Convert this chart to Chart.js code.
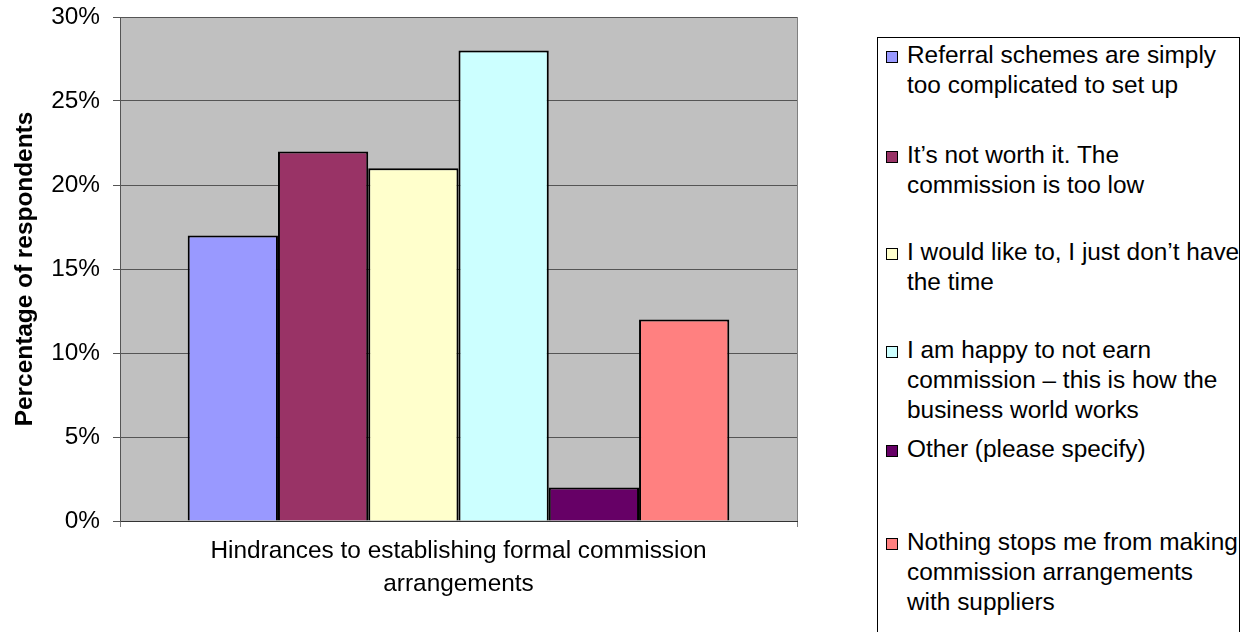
<!DOCTYPE html>
<html>
<head>
<meta charset="utf-8">
<script src="https://cdn.jsdelivr.net/npm/chart.js@4/dist/chart.umd.min.js"></script>
<style>
  html, body { margin: 0; padding: 0; background: #fff; }
  #wrap { position: relative; width: 1256px; height: 632px; overflow: hidden;
          font-family: "Liberation Sans", Arial, sans-serif; color: #000; }
  #chart { position: absolute; left: 0; top: 0; }
  #legendBox { position: absolute; left: 877px; top: 37px; width: 363px; height: 640px;
               border: 1px solid #000; box-sizing: border-box; background: #fff; }
  .item { position: absolute; left: 886px; }
  .swatch { position: absolute; left: 0; top: 11px; width: 12px; height: 12px;
            border: 1px solid #000; box-sizing: border-box; }
  .label { position: absolute; left: 21px; top: 0; font-size: 24.4px; line-height: 30px;
           white-space: pre; }
</style>
</head>
<body>
<div id="wrap">
  <canvas id="chart" width="1256" height="632"></canvas>
  <div id="legendBox"></div>
</div>
<script>
// Survey answers: share of respondents per hindrance
const categories = [['Hindrances to establishing formal commission', 'arrangements']];
const seriesNames = [
  'Referral schemes are simply\ntoo complicated to set up',
  'It\u2019s not worth it. The\ncommission is too low',
  'I would like to, I just don\u2019t have\nthe time',
  'I am happy to not earn\ncommission \u2013 this is how the\nbusiness world works',
  'Other (please specify)',
  'Nothing stops me from making\ncommission arrangements\nwith suppliers'
];
const seriesValues = [17, 22, 21, 28, 2, 12];
const seriesColors = ['#9999FF', '#993366', '#FFFFCC', '#CCFFFF', '#660066', '#FF8080'];
const tickLabels = ['0%', '5%', '10%', '15%', '20%', '25%', '30%'];
const yTitle = 'Percentage of respondents';

// Vertical placement of each legend entry (top of its first text line)
const legendTops = [40, 140, 237, 335, 434, 527];

const FONT = '"Liberation Sans", Arial, sans-serif';

const plotBackground = {
  id: 'plotBackground',
  beforeDraw(chart) {
    const { ctx, chartArea: a } = chart;
    ctx.save();
    ctx.fillStyle = '#C0C0C0';
    ctx.fillRect(a.left, a.top, a.right - a.left, a.bottom - a.top);
    ctx.restore();
  }
};

new Chart(document.getElementById('chart'), {
  type: 'bar',
  data: {
    labels: categories,
    datasets: seriesNames.map((name, i) => ({
      label: name,
      data: [seriesValues[i]],
      backgroundColor: seriesColors[i],
      borderColor: '#000000',
      borderWidth: 2,
      categoryPercentage: 0.8,
      barPercentage: 1.0
    }))
  },
  options: {
    responsive: false,
    animation: false,
    layout: { padding: { left: 0, top: 17, right: 459, bottom: 0 } },
    plugins: { legend: { display: false }, tooltip: { enabled: false } },
    scales: {
      x: {
        afterFit(scale) { scale.height = 111; scale.paddingLeft = 0; scale.paddingRight = 0; },
        grid: { color: '#808080', lineWidth: 1, tickLength: 6, drawOnChartArea: true },
        border: { color: '#333333', width: 1 },
        ticks: {
          color: '#000', padding: 8,
          font: { family: FONT, size: 24.4, lineHeight: 1.36 }
        }
      },
      y: {
        min: 0, max: 30,
        afterFit(scale) { scale.width = 120; scale.paddingTop = 0; scale.paddingBottom = 0; },
        grid: { color: '#555555', lineWidth: 1, tickLength: 7 },
        border: { color: '#555555', width: 1 },
        ticks: {
          stepSize: 5, color: '#000', padding: 13,
          font: { family: FONT, size: 24.4 },
          callback: (v) => tickLabels[Math.round(v / 5)]
        },
        title: {
          display: true, text: yTitle, color: '#000',
          font: { family: FONT, size: 24.4, weight: 'bold', lineHeight: 1.2 },
          padding: { top: 11, bottom: 0 }
        }
      }
    }
  },
  plugins: [plotBackground]
});

// Legend entries built from the series arrays
const wrap = document.getElementById('wrap');
seriesNames.forEach((name, i) => {
  const item = document.createElement('div');
  item.className = 'item';
  item.style.top = legendTops[i] + 'px';
  const sw = document.createElement('span');
  sw.className = 'swatch';
  sw.style.background = seriesColors[i];
  const lb = document.createElement('div');
  lb.className = 'label';
  lb.textContent = name;
  item.appendChild(sw);
  item.appendChild(lb);
  wrap.appendChild(item);
});
</script>
</body>
</html>
